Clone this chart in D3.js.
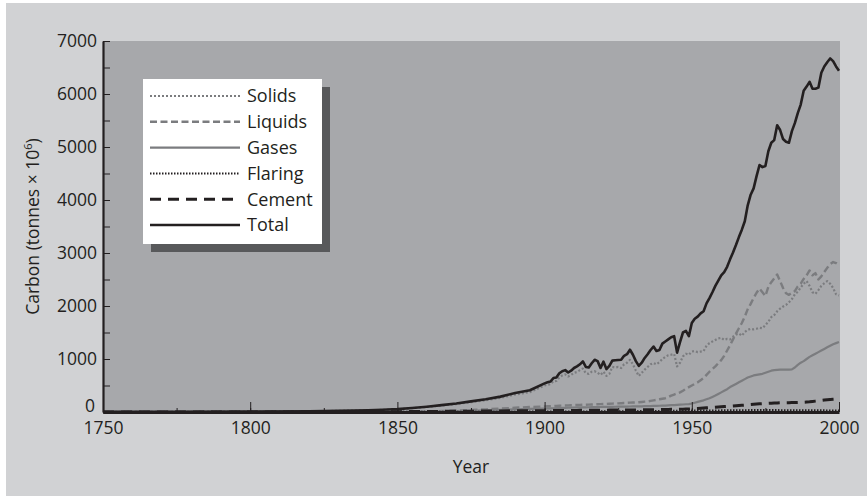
<!DOCTYPE html>
<html><head><meta charset="utf-8">
<script src="https://cdn.jsdelivr.net/npm/d3@7"></script>
<style>
html,body{margin:0;padding:0;background:#fff;}
svg{display:block;font-family:"Open Sans",sans-serif;}
</style></head>
<body>
<svg id="chart" width="867" height="497"></svg>
<script>
const years = [1750,1775,1800,1820,1825,1830,1835,1840,1845,1850,1855,1860,1865,1870,1875,1880,1885,1890,1895,
1900,1901,1902,1903,1904,1905,1906,1907,1908,1909,
1910,1911,1912,1913,1914,1915,1916,1917,1918,1919,
1920,1921,1922,1923,1924,1925,1926,1927,1928,1929,
1930,1931,1932,1933,1934,1935,1936,1937,1938,1939,
1940,1941,1942,1943,1944,1945,1946,1947,1948,1949,
1950,1951,1952,1953,1954,1955,1956,1957,1958,1959,
1960,1961,1962,1963,1964,1965,1966,1967,1968,1969,
1970,1971,1972,1973,1974,1975,1976,1977,1978,1979,
1980,1981,1982,1983,1984,1985,1986,1987,1988,1989,
1990,1991,1992,1993,1994,1995,1996,1997,1998,1999,
2000];

const total = [3,4,8,13,16,22,28,33,42,54,75,100,130,160,200,240,290,360,410,
540,560,575,640,650,730,770,790,745,780,
830,860,900,955,850,840,920,985,960,830,
950,810,870,970,975,980,985,1060,1090,1175,
1080,960,870,930,1020,1090,1170,1235,1150,1170,
1290,1330,1370,1410,1430,1120,1320,1500,1530,1430,
1680,1760,1800,1860,1900,2050,2150,2260,2380,2480,
2580,2640,2740,2880,3010,3150,3300,3440,3600,3900,
4100,4220,4450,4660,4620,4640,4920,5080,5130,5410,
5320,5150,5100,5080,5300,5450,5640,5800,6060,6140,
6230,6100,6100,6120,6400,6520,6600,6670,6620,6520,
6440];

const solids = [3,4,8,13,16,22,27,32,40,52,72,96,122,150,185,222,268,330,375,
500,515,525,580,585,650,690,710,670,700,
740,755,790,820,730,720,760,770,740,700,
760,680,720,850,840,850,830,900,930,985,
900,780,680,740,800,850,900,925,900,940,
1000,1040,1070,1080,1095,860,930,1050,1100,1080,
1140,1150,1130,1140,1150,1250,1300,1330,1360,1390,
1400,1360,1380,1370,1420,1460,1480,1440,1510,1550,
1570,1560,1570,1590,1580,1640,1700,1790,1830,1900,
1950,1990,2020,2070,2130,2220,2270,2350,2420,2470,
2380,2260,2230,2300,2380,2430,2470,2420,2340,2220,
2200];

const liquids = [0,0,0,0,0,0,0,0,0,2,5,10,18,28,38,50,65,80,95,
105,108,110,112,115,118,120,122,125,128,
130,132,134,136,138,140,142,144,146,148,
150,152,155,158,160,163,166,170,173,176,
178,180,185,190,195,200,210,220,230,240,
250,260,280,310,330,350,370,400,440,470,
500,530,560,600,640,700,760,810,860,920,
980,1060,1160,1260,1370,1480,1580,1680,1800,1940,
2040,2150,2250,2330,2260,2190,2360,2450,2520,2595,
2470,2340,2240,2210,2250,2280,2370,2420,2510,2580,
2670,2580,2620,2500,2560,2640,2720,2790,2830,2810,
2770];

const gases = [0,0,0,0,0,0,0,0,0,0,2,5,10,15,22,30,40,50,60,
65,67,69,71,73,75,77,79,81,83,
85,86,87,88,89,90,91,92,93,94,
95,96,97,98,99,100,101,102,103,104,
105,106,107,108,109,110,112,114,116,118,
120,122,125,128,131,134,138,142,146,150,
160,175,190,205,220,240,260,285,310,340,
370,400,430,470,500,530,560,590,620,650,
670,690,700,710,720,740,760,780,790,795,
800,800,800,800,805,840,890,930,960,1000,
1040,1070,1100,1130,1160,1190,1220,1250,1280,1300,
1320];

const flaring = [0,0,0,0,0,0,0,0,0,5,5,5,6,6,6,7,7,7,8,
8,8,8,9,9,9,9,10,10,10,
10,10,11,11,11,11,12,12,12,12,
13,13,13,14,14,14,15,15,15,16,
16,16,17,17,18,18,19,19,20,20,
21,21,22,22,23,23,24,24,25,25,
26,26,27,27,28,28,29,29,30,30,
31,31,32,32,33,33,34,34,35,35,
36,36,36,36,36,36,36,36,36,36,
35,35,35,35,34,34,34,33,33,33,
32,32,32,31,31,31,30,30,30,30,
30];

const cement = [0,0,0,0,0,0,0,0,0,5,8,10,12,14,16,18,20,22,24,
25,25,26,26,27,27,28,28,29,29,
30,30,31,31,32,32,33,33,34,34,
35,35,36,36,37,37,38,38,39,40,
40,40,41,41,42,42,43,44,45,46,
47,48,49,50,50,50,52,54,56,58,
60,63,66,70,74,78,82,86,90,94,
98,102,106,110,114,118,122,126,130,135,
140,145,150,155,158,160,163,166,169,172,
175,175,175,176,177,178,180,182,185,188,
192,198,205,212,219,226,232,238,242,246,
250];

const seriesNames = ["Solids","Liquids","Gases","Flaring","Cement","Total"];
const seriesValues = [solids, liquids, gases, flaring, cement, total];
const yTicks = [0,500,1000,1500,2000,2500,3000,3500,4000,4500,5000,5500,6000,6500,7000];
const xTicks = [1750,1775,1800,1825,1850,1875,1900,1925,1950,1975,2000];
const xLabelTicks = [1750,1800,1850,1900,1950,2000];

const styles = {
  Solids:  {stroke:"#7b7c7f", width:2.2, dash:"2,2"},
  Liquids: {stroke:"#7b7c7f", width:2.4, dash:"7,3.5"},
  Gases:   {stroke:"#7b7c7f", width:2.2, dash:null},
  Flaring: {stroke:"#231f20", width:2,   dash:"1.5,1.5"},
  Cement:  {stroke:"#231f20", width:3,   dash:"11,7"},
  Total:   {stroke:"#231f20", width:2.6, dash:null}
};

const svg = d3.select("#chart");
const L = 103, R = 839, T = 41, B = 412;
const x = d3.scaleLinear().domain([1750,2000]).range([L,R]);
const y = d3.scaleLinear().domain([0,7000]).range([B,T]);

// panels
svg.append("rect").attr("x",6).attr("y",3).attr("width",861).attr("height",493).attr("fill","#d1d2d4");
svg.append("rect").attr("x",L).attr("y",T).attr("width",R-L+1).attr("height",B-T).attr("fill","#a7a8ab");

// lines
const drawOrder = ["Gases","Liquids","Solids","Flaring","Cement","Total"];
drawOrder.forEach(name=>{
  const vals = seriesValues[seriesNames.indexOf(name)];
  const st = styles[name];
  const line = d3.line().x((d,i)=>x(years[i])).y(d=>y(d));
  svg.append("path").datum(vals).attr("d",line)
    .attr("fill","none").attr("stroke",st.stroke).attr("stroke-width",st.width)
    .attr("stroke-dasharray",st.dash).attr("stroke-linejoin","round");
});

// axes
const fontSize = 17.5;
const yAxis = d3.axisLeft(y).tickValues(yTicks).tickSizeInner(-7).tickSizeOuter(0).tickPadding(6)
  .tickFormat(d=> d%1000===0 ? String(d) : "");
const gy = svg.append("g").attr("transform",`translate(${L},0)`).call(yAxis);
gy.select(".domain").attr("stroke","#231f20").attr("stroke-width",2.2);
gy.selectAll(".tick line").attr("stroke","#231f20").attr("stroke-width",1);
gy.selectAll(".tick text").attr("font-size",fontSize).attr("fill","#231f20").attr("font-family","Open Sans");
gy.selectAll(".tick").filter(d=>d===0).select("text").attr("dy","-0.05em").attr("x",-8);

const xAxisMinor = d3.axisBottom(x).tickValues(xTicks).tickSizeInner(-4).tickSizeOuter(0).tickFormat("");
const gxm = svg.append("g").attr("transform",`translate(0,${B})`).call(xAxisMinor);
gxm.select(".domain").remove();
gxm.selectAll(".tick line").attr("stroke","#231f20").attr("stroke-width",1);

const xAxis = d3.axisBottom(x).tickValues(xLabelTicks).tickSizeInner(-10).tickSizeOuter(0).tickPadding(10)
  .tickFormat(d3.format("d"));
const gx = svg.append("g").attr("transform",`translate(0,${B})`).call(xAxis);
gx.select(".domain").attr("stroke","#231f20").attr("stroke-width",3);
gx.selectAll(".tick line").attr("stroke","#231f20").attr("stroke-width",1);
gx.selectAll(".tick text").attr("font-size",fontSize).attr("fill","#231f20").attr("font-family","Open Sans");

// axis titles
svg.append("text").attr("x",(L+R)/2).attr("y",473).attr("text-anchor","middle")
  .attr("font-size",fontSize).attr("fill","#231f20").text("Year");
const yl = svg.append("text").attr("transform",`translate(39,${(T+B)/2}) rotate(-90)`)
  .attr("text-anchor","middle").attr("font-size",fontSize).attr("fill","#231f20");
yl.append("tspan").text("Carbon (tonnes \u00d7 10");
yl.append("tspan").attr("font-size",11).attr("dy",-7).text("6");
yl.append("tspan").attr("dy",7).text(")");

// legend
const lg = svg.append("g");
lg.append("rect").attr("x",151).attr("y",87).attr("width",179).attr("height",165).attr("fill","#58595b");
lg.append("rect").attr("x",143).attr("y",79).attr("width",179).attr("height",165).attr("fill","#ffffff");
seriesNames.forEach((name,i)=>{
  const st = styles[name];
  const cy = 96 + i*25.8;
  lg.append("line").attr("x1",150).attr("x2",240).attr("y1",cy).attr("y2",cy)
    .attr("stroke",st.stroke).attr("stroke-width",st.width).attr("stroke-dasharray",st.dash);
  lg.append("text").attr("x",247).attr("y",cy).attr("dy","0.35em")
    .attr("font-size",18).attr("fill","#231f20").text(name);
});
</script>
</body></html>
